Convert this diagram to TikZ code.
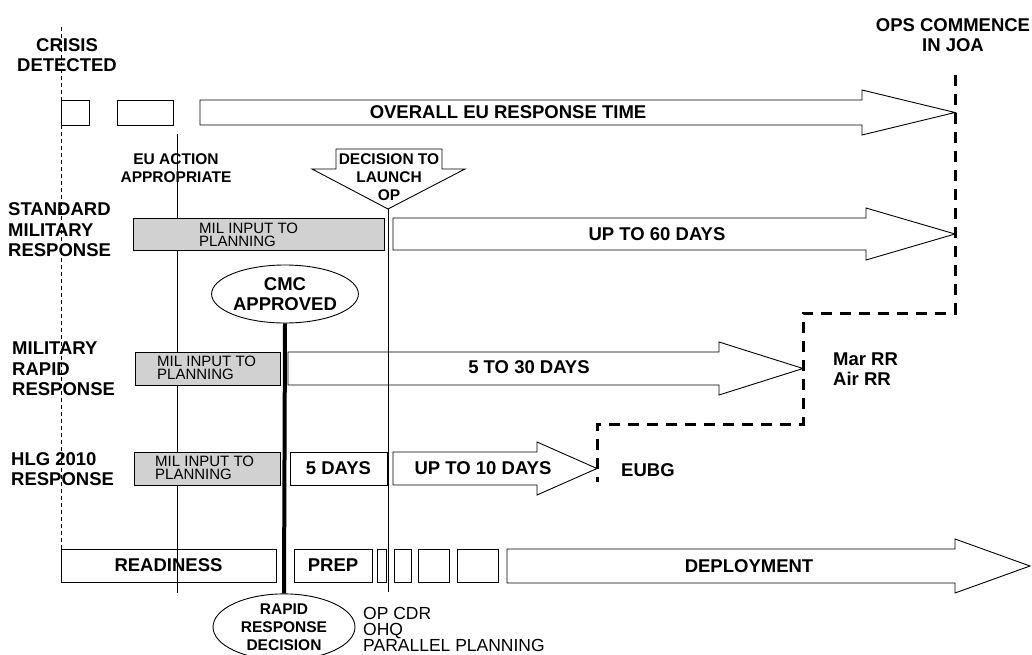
\documentclass[tikz,border=0pt]{standalone}
\usepackage{fontspec}
\setmainfont{Liberation Sans}
\usetikzlibrary{shapes.geometric,positioning}

% block arrow: name, x start, head start, tip x, y top, y bottom
\newcommand{\blockarr}[6]{%
  \draw[arrline] (#2,#5) -- (#3,#5) -- (#3,#5-10) -- (#4,{(#5+#6)/2})
    -- (#3,#6+10) -- (#3,#6) -- (#2,#6) -- cycle;
  \coordinate (#1) at (#4,{(#5+#6)/2});}
% plain box: style, name, x0, y0, x1, y1
\newcommand{\tbox}[6]{%
  \node[#1, minimum width={#5-#3}, minimum height={#6-#4}] (#2) at (#3,#4) {};}

\begin{document}
\begin{tikzpicture}[
    x=1pt, y=-1pt,
    box/.style={rectangle, draw, line width=0.9pt, inner sep=0, outer sep=0, anchor=north west},
    milbox/.style={box, fill=black!18},
    arrline/.style={line width=0.9pt},
    big/.style={font=\bfseries\fontsize{18.5}{20.5}\selectfont, inner sep=0, align=center},
    small/.style={font=\bfseries\fontsize{15.5}{18}\selectfont, inner sep=0, align=center},
    milinput/.style={font=\fontsize{15}{13.5}\selectfont, inner sep=0, align=left, anchor=west},
    rowlabel/.style={big, align=left, anchor=west},
    bubble/.style={ellipse, draw, line width=0.9pt, inner sep=0, fill=white},
    timeline/.style={line width=0.8pt},
    opsline/.style={line width=3pt, dash pattern=on 11pt off 8pt}
]
    \useasboundingbox (0,0) rectangle (1032,655);

    % Milestones
    \node[big] (crisis) at (67,55) {CRISIS\\DETECTED};
    \node[big] (ops) at (953,35) {OPS COMMENCE\\IN JOA};
    \node[small] (euaction) at (176,168) {EU ACTION\\APPROPRIATE};
    \node[bubble, big, minimum width=144, minimum height=58] (cmc) at (285,294) {CMC\\APPROVED};
    \node[bubble, small, minimum width=142, minimum height=56] (rrd) at (284,627) {RAPID\\RESPONSE\\DECISION};

    % Time lines
    \coordinate (crisisTop) at (61,27);
    \coordinate (euTop) at (177,134);
    \coordinate (euBot) at (177,593);
    \coordinate (decBot) at (388,592);

    % Overall response
    \tbox{box}{ovA}{61}{100}{89}{125}
    \tbox{box}{ovB}{117}{100}{173}{125}
    \blockarr{ovTip}{200}{862}{955}{100}{125}
    \node[big] (overall) at (508,112) {OVERALL EU RESPONSE TIME};

    % Decision to launch
    \draw[arrline] (336,149) -- (442,149) -- (442,169) -- (465,169) -- (388,209)
        -- (312,169) -- (336,169) -- cycle;
    \coordinate (decTip) at (388,209);
    \node[small] (decision) at (389,177) {DECISION TO\\LAUNCH\\OP};

    % Bottom row
    \tbox{box}{readiness}{61}{549}{276}{582}
    \node[big] at (readiness.center) {READINESS};
    \tbox{box}{prep}{294}{549}{372}{582}
    \node[big] at (prep.center) {PREP};
    \tbox{box}{stepA}{377}{549}{386}{582}
    \tbox{box}{stepB}{394}{549}{411}{582}
    \tbox{box}{stepC}{418}{549}{449}{582}
    \tbox{box}{stepD}{457}{549}{498}{582}
    \blockarr{depTip}{507}{955}{1030}{549}{583}
    \node[big] (deploy) at (749,566) {DEPLOYMENT};

    \draw[timeline, dash pattern=on 4pt off 3pt] (crisisTop) -- (readiness.north west);
    \draw[timeline] (euTop) -- (euBot);
    \draw[timeline] (decTip) -- (decBot);
    \draw[line width=4pt] (cmc.south) -- (rrd.north);

    % Standard military response
    \node[rowlabel] (stdlbl) at (8,230) {STANDARD\\MILITARY\\RESPONSE};
    \tbox{milbox}{stdmil}{133}{218}{384}{250}
    \node[milinput] at (199,235) {MIL INPUT TO\\PLANNING};
    \blockarr{stdTip}{393}{866}{955}{218}{250}
    \node[big] (std60) at (657,234) {UP TO 60 DAYS};

    % Military rapid response
    \node[rowlabel] (rrlbl) at (12,369) {MILITARY\\RAPID\\RESPONSE};
    \tbox{milbox}{rrmil}{135}{352}{280}{385}
    \node[milinput] at (157,368) {MIL INPUT TO\\PLANNING};
    \blockarr{rrTip}{288}{719}{803}{352}{385}
    \node[big] (rr30) at (529,367) {5 TO 30 DAYS};
    \node[rowlabel] (marair) at (833,369) {Mar RR\\Air RR};

    % HLG 2010 response
    \node[rowlabel] (hlglbl) at (11,469) {HLG 2010\\RESPONSE};
    \tbox{milbox}{hlgmil}{134}{452}{280}{485}
    \node[milinput] at (155,468) {MIL INPUT TO\\PLANNING};
    \tbox{box}{fiveday}{290}{452}{387}{485}
    \node[big] at (fiveday.center) {5 DAYS};
    \blockarr{hlgTip}{393}{537}{597}{452}{485}
    \node[big] (hlg10) at (483,468) {UP TO 10 DAYS};
    \node[rowlabel] (eubg) at (621,470) {EUBG};

    % Ops commence line
    \coordinate (opsTop) at (955,75);
    \draw[opsline] (opsTop) -- (955,313) -- (803,313) -- (803,424) -- (597,424) -- (597,482);

    % Parallel planning
    \node[font=\fontsize{17.5}{16}\selectfont, inner sep=0, align=left, anchor=west]
        (planning) at (363,629) {OP CDR\\OHQ\\PARALLEL PLANNING};
\end{tikzpicture}
\end{document}
